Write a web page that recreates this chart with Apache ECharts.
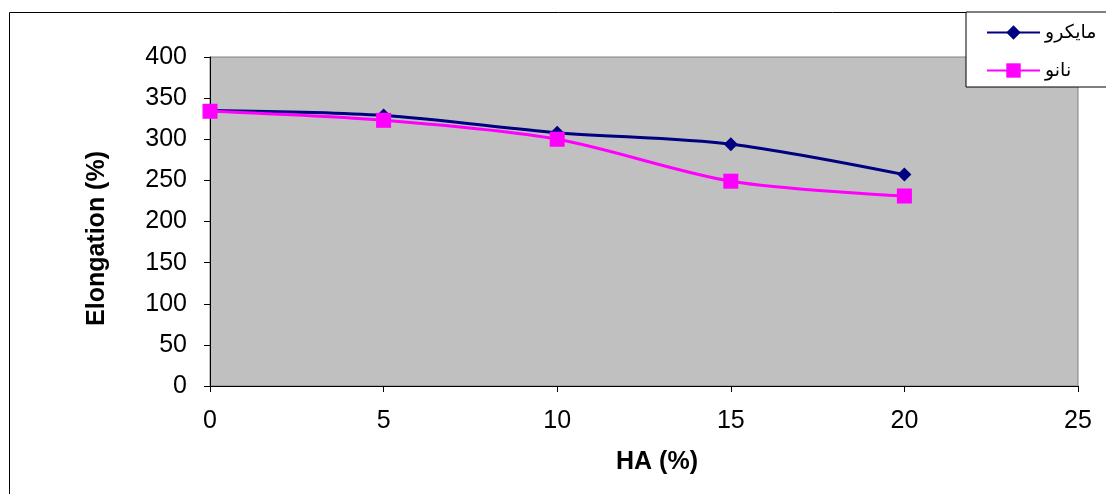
<!DOCTYPE html>
<html>
<head>
<meta charset="utf-8">
<script src="https://cdn.jsdelivr.net/npm/echarts@6/dist/echarts.min.js"></script>
<style>
html,body{margin:0;padding:0;background:#fff;}
#chart{width:1106px;height:494px;}
</style>
</head>
<body>
<div id="chart"></div>
<script>
const haValues = [0, 5, 10, 15, 20];
const microName = 'مايكرو';
const nanoName = 'نانو';
const microValues = [335, 329, 308, 294, 257];
const nanoValues = [334, 323, 300, 249, 231];
const xTicks = { min: 0, max: 25, interval: 5 };
const yTicks = { min: 0, max: 400, interval: 50 };

const font = 'Arial, "Liberation Sans", "DejaVu Sans", sans-serif';
const chart = echarts.init(document.getElementById('chart'));
chart.setOption({
  animation: false,
  backgroundColor: '#fff',
  textStyle: { fontFamily: font },
  graphic: [
    { type: 'rect', shape: { x: 9.5, y: 12.5, width: 1110, height: 500 },
      style: { fill: null, stroke: '#000', lineWidth: 1 }, z: -10 }
  ],
  grid: {
    left: 210, top: 57, right: 1106 - 1078, bottom: 494 - 386,
    show: true, backgroundColor: '#C0C0C0', borderColor: '#808080', borderWidth: 1
  },
  legend: {
    orient: 'vertical',
    left: 966, top: 12,
    backgroundColor: '#fff',
    borderColor: '#000', borderWidth: 1, borderRadius: 0,
    padding: [11, 30, 7, 20],
    itemGap: 19,
    itemWidth: 53, itemHeight: 18,
    textStyle: { fontSize: 19, lineHeight: 18, color: '#000', fontFamily: font },
    data: [microName, nanoName]
  },
  xAxis: {
    type: 'value',
    min: xTicks.min, max: xTicks.max, interval: xTicks.interval,
    name: 'HA (%)', nameLocation: 'middle', nameGap: 64,
    nameTextStyle: { fontSize: 25, fontWeight: 'bold', color: '#000', fontFamily: font, padding: [0, 0, 0, 26] },
    axisLine: { show: true, lineStyle: { color: '#000', width: 1 } },
    axisTick: { show: true, length: 6, lineStyle: { color: '#000' } },
    axisLabel: { fontSize: 25, color: '#000', margin: 23, fontFamily: font },
    splitLine: { show: false }
  },
  yAxis: {
    type: 'value',
    min: yTicks.min, max: yTicks.max, interval: yTicks.interval,
    name: 'Elongation (%)', nameLocation: 'middle', nameGap: 100, nameRotate: 90,
    nameTextStyle: { fontSize: 25, fontWeight: 'bold', color: '#000', fontFamily: font, padding: [0, 34, 0, 0] },
    axisLine: { show: true, lineStyle: { color: '#000', width: 1 } },
    axisTick: { show: true, length: 6, lineStyle: { color: '#000' } },
    axisLabel: { fontSize: 25, color: '#000', margin: 23, fontFamily: font },
    splitLine: { show: false }
  },
  series: [
    {
      name: microName, type: 'line', smooth: 0.3,
      data: haValues.map((x, i) => [x, microValues[i]]),
      symbol: 'diamond', symbolSize: 14,
      lineStyle: { color: '#000080', width: 3 },
      itemStyle: { color: '#000080' },
      z: 3
    },
    {
      name: nanoName, type: 'line', smooth: 0.3,
      data: haValues.map((x, i) => [x, nanoValues[i]]),
      symbol: 'rect', symbolSize: 15,
      lineStyle: { color: '#FF00FF', width: 3 },
      itemStyle: { color: '#FF00FF' },
      z: 4
    }
  ]
});
</script>
</body>
</html>
